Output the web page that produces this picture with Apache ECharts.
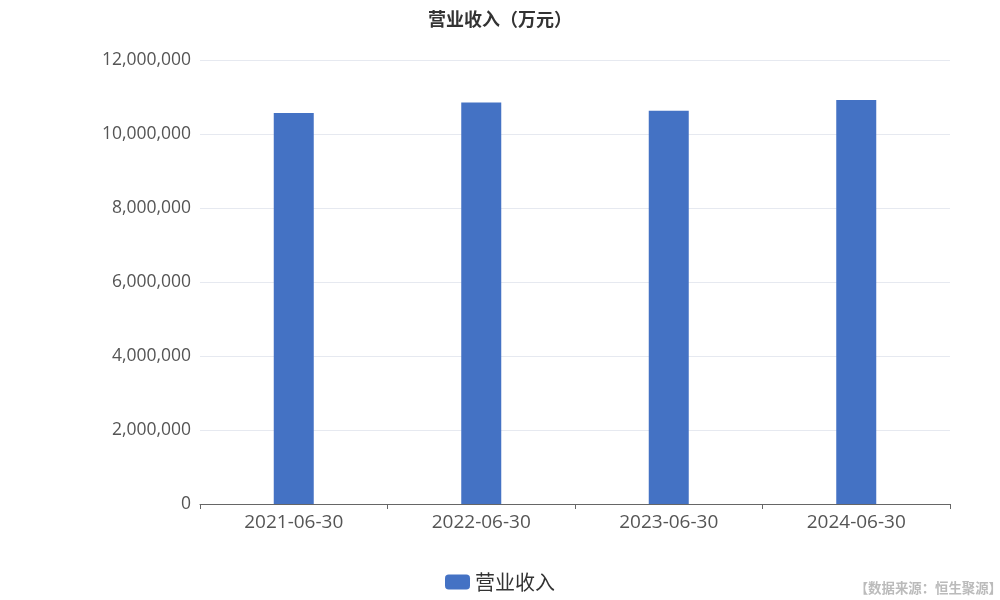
<!DOCTYPE html>
<html><head><meta charset="utf-8">
<script src="https://cdn.jsdelivr.net/npm/echarts@6/dist/echarts.min.js"></script>
<style>html,body{margin:0;padding:0;background:#fff}#c{width:1000px;height:600px}</style>
</head><body><div id="c"></div>
<script>
const categories = ['2021-06-30','2022-06-30','2023-06-30','2024-06-30'];
const revenue = [10570000, 10850000, 10630000, 10920000];
const seriesName = '营业收入';
const chart = echarts.init(document.getElementById('c'));
chart.setOption({
  animation:false,
  textStyle:{fontFamily:'"Open Sans","Noto Sans CJK SC",sans-serif'},
  title:{text:'营业收入（万元）',left:'center',top:5,textStyle:{fontSize:18,fontWeight:'bold',color:'#333',fontFamily:'"Noto Sans CJK SC",sans-serif'}},
  graphic:[{type:'text',right:-2,bottom:5,style:{text:'【数据来源：恒生聚源】',fill:'#bbb',fontSize:13.4,fontWeight:'bold',fontFamily:'"Noto Sans CJK SC",sans-serif'}}],
  legend:{bottom:3,left:'center',itemWidth:25,itemHeight:15,itemGap:10,textStyle:{fontSize:20,color:'#333',fontFamily:'"Noto Sans CJK SC",sans-serif'},data:[seriesName]},
  grid:{left:200,right:50,top:60,bottom:96},
  xAxis:{type:'category',data:categories,axisTick:{show:true},axisLine:{lineStyle:{color:'#666'}},axisLabel:{fontSize:19,color:'#555',margin:9}},
  yAxis:{type:'value',min:0,max:12000000,interval:2000000,axisLabel:{fontSize:17.5,color:'#555',margin:9,formatter:v=>v.toLocaleString('en-US')},splitLine:{lineStyle:{color:'#e6e9f0'}}},
  series:[{name:seriesName,type:'bar',data:revenue,barWidth:40,itemStyle:{color:'#4472c4'}}]
});
</script></body></html>
